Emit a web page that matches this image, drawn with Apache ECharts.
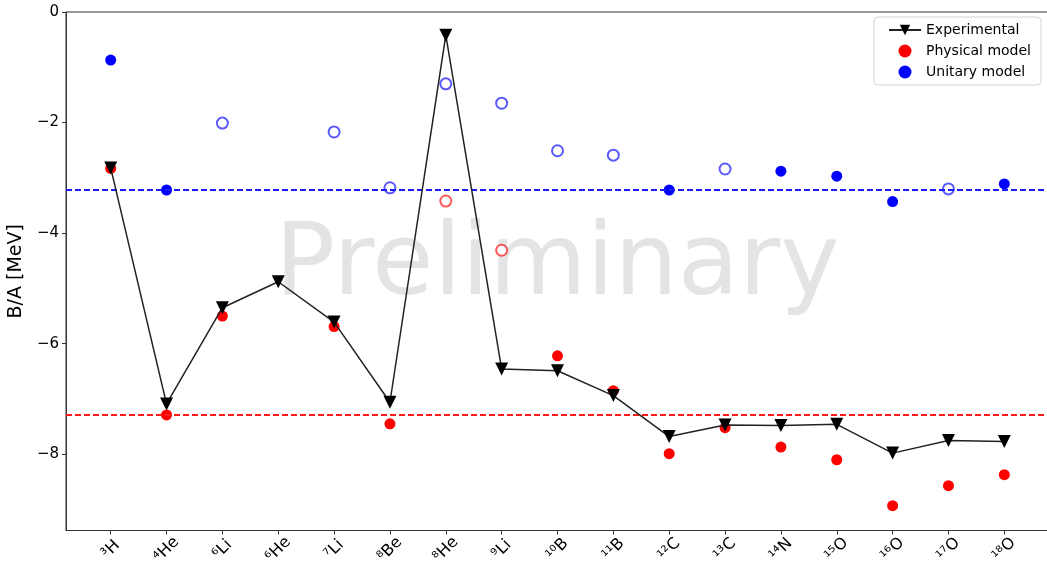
<!DOCTYPE html>
<html>
<head>
<meta charset="utf-8">
<script src="https://cdn.jsdelivr.net/npm/echarts@6/dist/echarts.min.js"></script>
<style>
  html, body { margin: 0; padding: 0; background: #fff; }
  #chart { width: 1047px; height: 564px; }
</style>
</head>
<body>
<div id="chart"></div>
<script>
// nuclei on the x axis (superscript mass number + element symbol)
const nuclei = ['³H', '⁴He', '⁶Li', '⁶He', '⁷Li', '⁸Be', '⁸He', '⁹Li', '¹⁰B', '¹¹B', '¹²C', '¹³C', '¹⁴N', '¹⁵O', '¹⁶O', '¹⁷O', '¹⁸O'];

// B/A in MeV
const experimental = [-2.82, -7.09, -5.35, -4.88, -5.61, -7.06, -0.42, -6.46, -6.49, -6.94, -7.68, -7.47, -7.48, -7.46, -7.98, -7.75, -7.77];
// physical model: filled points / open points
const physicalFilled = [-2.83, -7.29, -5.50, null, -5.69, -7.45, null, null, -6.22, -6.85, -7.99, -7.52, -7.87, -8.10, -8.93, -8.57, -8.37];
const physicalOpen = [null, null, null, null, null, null, -3.42, -4.31, null, null, null, null, null, null, null, null, null];
// unitary model: filled points / open points
const unitaryFilled = [-0.87, -3.22, null, null, null, null, null, null, null, null, -3.22, null, -2.88, -2.97, -3.43, null, -3.11];
const unitaryOpen = [null, null, -2.01, null, -2.17, -3.18, -1.30, -1.65, -2.51, -2.59, null, -2.84, null, null, null, -3.20, null];

// reference lines
const physicalLine = -7.28;
const unitaryLine = -3.22;

const yTicks = [0, -2, -4, -6, -8];
const xTicks = nuclei.map((n, i) => i);

function pairs(arr) {
    return arr.map((v, i) => v === null ? null : [i, v]).filter(p => p !== null);
}

const fontFamily = 'DejaVu Sans';
const chart = echarts.init(document.getElementById('chart'));

chart.setOption({
    animation: false,
    textStyle: {fontFamily: fontFamily},
    grid: {
        left: 66, right: -2, top: 12, bottom: 33.5,
        outerBoundsMode: 'none',
        containLabel: false,
        show: true, borderColor: '#333', borderWidth: 1
    },
    graphic: [{
        type: 'text',
        x: 557, y: 268, z: -1,
        style: {
            text: 'Preliminary',
            font: '100px "DejaVu Sans"',
            fill: '#e4e4e4',
            align: 'center',
            verticalAlign: 'middle'
        }
    }],
    legend: {
        orient: 'vertical',
        right: 6, top: 17,
        padding: [6, 10, 6, 14],
        itemGap: 7,
        itemWidth: 32, itemHeight: 13,
        borderColor: '#d5d5d5', borderWidth: 1, borderRadius: 4,
        backgroundColor: 'rgba(255,255,255,0.8)',
        textStyle: {fontSize: 14, color: '#000', fontFamily: fontFamily},
        data: ['Experimental', 'Physical model', 'Unitary model']
    },
    xAxis: {
        type: 'value',
        min: -0.8, max: 16.8,
        splitLine: {show: false},
        axisLine: {show: true, onZero: false, lineStyle: {color: '#333', width: 1}},
        axisTick: {show: true, customValues: xTicks, length: 4, lineStyle: {color: '#333'}},
        axisLabel: {
            customValues: xTicks,
            rotate: 45,
            align: 'center',
            verticalAlign: 'middle',
            margin: 19,
            fontSize: 16,
            color: '#000',
            formatter: v => nuclei[v]
        }
    },
    yAxis: {
        type: 'value',
        min: -9.38, max: 0,
        name: 'B/A [MeV]',
        nameLocation: 'middle',
        nameGap: 34,
        nameTextStyle: {fontSize: 19, color: '#000', fontFamily: fontFamily},
        splitLine: {show: false},
        axisLine: {show: true, onZero: false, lineStyle: {color: '#333', width: 1}},
        axisTick: {show: true, customValues: yTicks, length: 4, lineStyle: {color: '#333'}},
        axisLabel: {
            customValues: yTicks,
            margin: 7,
            fontSize: 15,
            color: '#000',
            formatter: v => (v < 0 ? '\u2212' + Math.abs(v) : String(v))
        }
    },
    series: [
        {
            name: 'Physical model',
            type: 'scatter',
            data: pairs(physicalFilled),
            symbol: 'circle',
            symbolSize: 11,
            itemStyle: {color: '#ff0000', opacity: 1},
            z: 3,
            markLine: {
                silent: true,
                symbol: ['none', 'none'],
                label: {show: false},
                lineStyle: {color: '#ff1a1a', width: 1.9, type: [6, 3], opacity: 1},
                data: [{yAxis: physicalLine}]
            }
        },
        {
            name: 'Physical model open',
            type: 'scatter',
            data: pairs(physicalOpen),
            symbol: 'emptyCircle',
            symbolSize: 11,
            itemStyle: {color: 'rgba(255,0,0,0.65)', borderWidth: 1.3, opacity: 1},
            z: 3
        },
        {
            name: 'Unitary model',
            type: 'scatter',
            data: pairs(unitaryFilled),
            symbol: 'circle',
            symbolSize: 11,
            itemStyle: {color: '#0000ff', opacity: 1},
            z: 3,
            markLine: {
                silent: true,
                symbol: ['none', 'none'],
                label: {show: false},
                lineStyle: {color: '#1a1aff', width: 1.9, type: [6, 3], opacity: 1},
                data: [{yAxis: unitaryLine}]
            }
        },
        {
            name: 'Unitary model open',
            type: 'scatter',
            data: pairs(unitaryOpen),
            symbol: 'emptyCircle',
            symbolSize: 11,
            itemStyle: {color: 'rgba(0,0,255,0.65)', borderWidth: 1.3, opacity: 1},
            z: 3
        },
        {
            name: 'Experimental',
            type: 'line',
            data: pairs(experimental),
            symbol: 'triangle',
            symbolRotate: 180,
            symbolSize: 13,
            showAllSymbol: true,
            itemStyle: {color: '#000'},
            lineStyle: {color: '#222', width: 1.5},
            z: 5
        }
    ]
});
</script>
</body>
</html>
